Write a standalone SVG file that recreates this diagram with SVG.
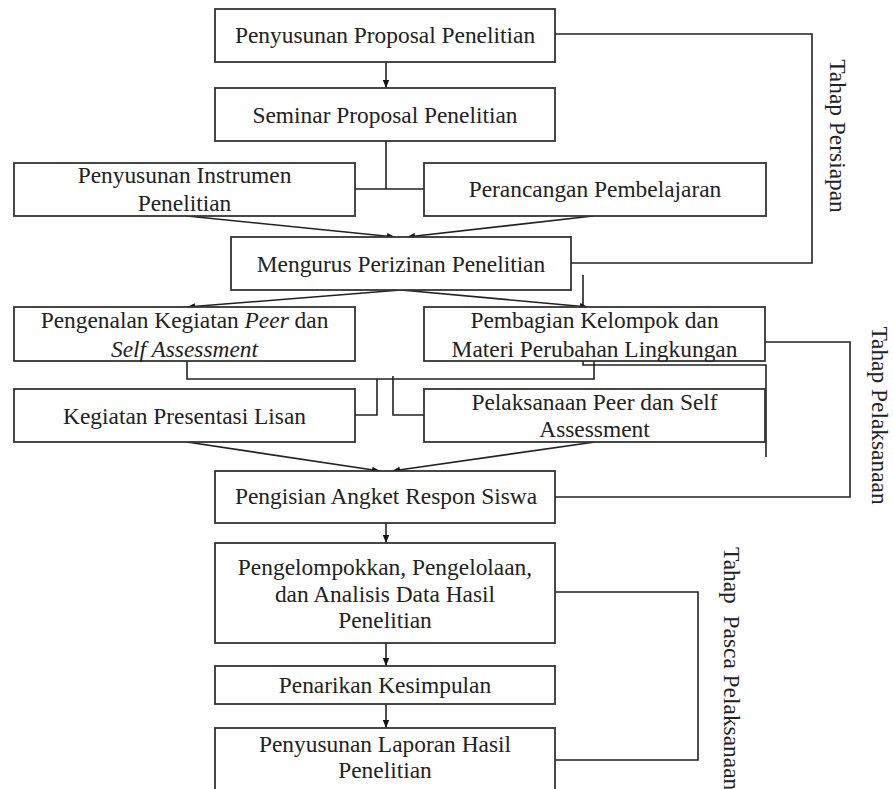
<svg xmlns="http://www.w3.org/2000/svg" width="893" height="789" viewBox="0 0 893 789">
<style>
.box{fill:#fff;stroke:#333;stroke-width:1.8}
.t{font-family:"Liberation Serif","Times New Roman",serif;font-size:23.4px;fill:#222;text-anchor:middle}
.lbl{font-family:"Liberation Serif","Times New Roman",serif;font-size:23.4px;fill:#222}
.c{fill:none;stroke:#222;stroke-width:1.6}
</style>
<defs>
<marker id="ah" markerUnits="userSpaceOnUse" markerWidth="8" markerHeight="8" viewBox="0 0 8 8" refX="8" refY="4" orient="auto">
<path d="M0,0.8 L8,4 L0,7.2 Z" fill="#111"/>
</marker>
</defs>
<rect width="893" height="789" fill="#fff"/>
<g id="connectors">
<path class="c" d="M386,62 V88" marker-end="url(#ah)"/>
<path class="c" d="M386,141 V189 M355,189 H424"/>
<path class="c" d="M187,216 L395,237" marker-end="url(#ah)"/>
<path class="c" d="M593,216 L407,237" marker-end="url(#ah)"/>
<path class="c" d="M555,34 H812 V263 H571"/>
<path class="c" d="M401,290 L187,307" marker-end="url(#ah)"/>
<path class="c" d="M401,290 L588,307" marker-end="url(#ah)"/>
<path class="c" d="M583,275 V365 H766 V457"/>
<path class="c" d="M187,361 V379 H594 V361"/>
<path class="c" d="M377,379 V415 H355"/>
<path class="c" d="M393,376 V415 H424"/>
<path class="c" d="M765,342 H850 V497 H555"/>
<path class="c" d="M187,442 L380,471" marker-end="url(#ah)"/>
<path class="c" d="M595,442 L392,471" marker-end="url(#ah)"/>
<path class="c" d="M386,523 V543" marker-end="url(#ah)"/>
<path class="c" d="M386,643 V666" marker-end="url(#ah)"/>
<path class="c" d="M386,704 V728" marker-end="url(#ah)"/>
<path class="c" d="M555,592 H698 V760 H555"/>
</g>
<g id="n1"><rect class="box" x="215" y="9" width="340" height="53"/><text class="t" x="385" y="43">Penyusunan Proposal Penelitian</text></g>
<g id="n2"><rect class="box" x="215" y="88" width="340" height="53"/><text class="t" x="385" y="123">Seminar Proposal Penelitian</text></g>
<g id="n3"><rect class="box" x="14" y="163" width="341" height="53"/><text class="t" x="184.5" y="183">Penyusunan Instrumen</text><text class="t" x="184.5" y="211">Penelitian</text></g>
<g id="n4"><rect class="box" x="424" y="163" width="342" height="53"/><text class="t" x="595" y="197">Perancangan Pembelajaran</text></g>
<g id="n5"><rect class="box" x="231" y="237" width="340" height="53"/><text class="t" x="401" y="272">Mengurus Perizinan Penelitian</text></g>
<g id="n6"><rect class="box" x="14" y="307" width="341" height="54"/><text class="t" x="184.5" y="328">Pengenalan Kegiatan <tspan font-style="italic">Peer</tspan> dan</text><text class="t" x="184.5" y="357" font-style="italic">Self Assessment</text></g>
<g id="n7"><rect class="box" x="424" y="307" width="341" height="54"/><text class="t" x="594.5" y="328">Pembagian Kelompok dan</text><text class="t" x="594.5" y="357">Materi Perubahan Lingkungan</text></g>
<g id="n8"><rect class="box" x="14" y="389" width="341" height="53"/><text class="t" x="184.5" y="424">Kegiatan Presentasi Lisan</text></g>
<g id="n9"><rect class="box" x="424" y="389" width="341" height="53"/><text class="t" x="594.5" y="410">Pelaksanaan Peer dan Self</text><text class="t" x="594.5" y="437">Assessment</text></g>
<g id="n10"><rect class="box" x="215" y="471" width="340" height="52"/><text class="t" x="386" y="504">Pengisian Angket Respon Siswa</text></g>
<g id="n11"><rect class="box" x="215" y="543" width="340" height="100"/><text class="t" x="385" y="575">Pengelompokkan, Pengelolaan,</text><text class="t" x="385" y="602">dan Analisis Data Hasil</text><text class="t" x="385" y="628">Penelitian</text></g>
<g id="n12"><rect class="box" x="215" y="666" width="340" height="38"/><text class="t" x="385" y="693">Penarikan Kesimpulan</text></g>
<g id="n13"><rect class="box" x="215" y="728" width="340" height="70"/><text class="t" x="385" y="752">Penyusunan Laporan Hasil</text><text class="t" x="385" y="778">Penelitian</text></g>
<g id="labels">
<text class="lbl" text-anchor="middle" transform="translate(830,136) rotate(90)">Tahap Persiapan</text>
<text class="lbl" text-anchor="middle" transform="translate(872,415.5) rotate(90)">Tahap Pelaksanaan</text>
<text class="lbl" style="white-space:pre" transform="translate(724,547) rotate(90)">Tahap  Pasca Pelaksanaan</text>
</g>
</svg>
